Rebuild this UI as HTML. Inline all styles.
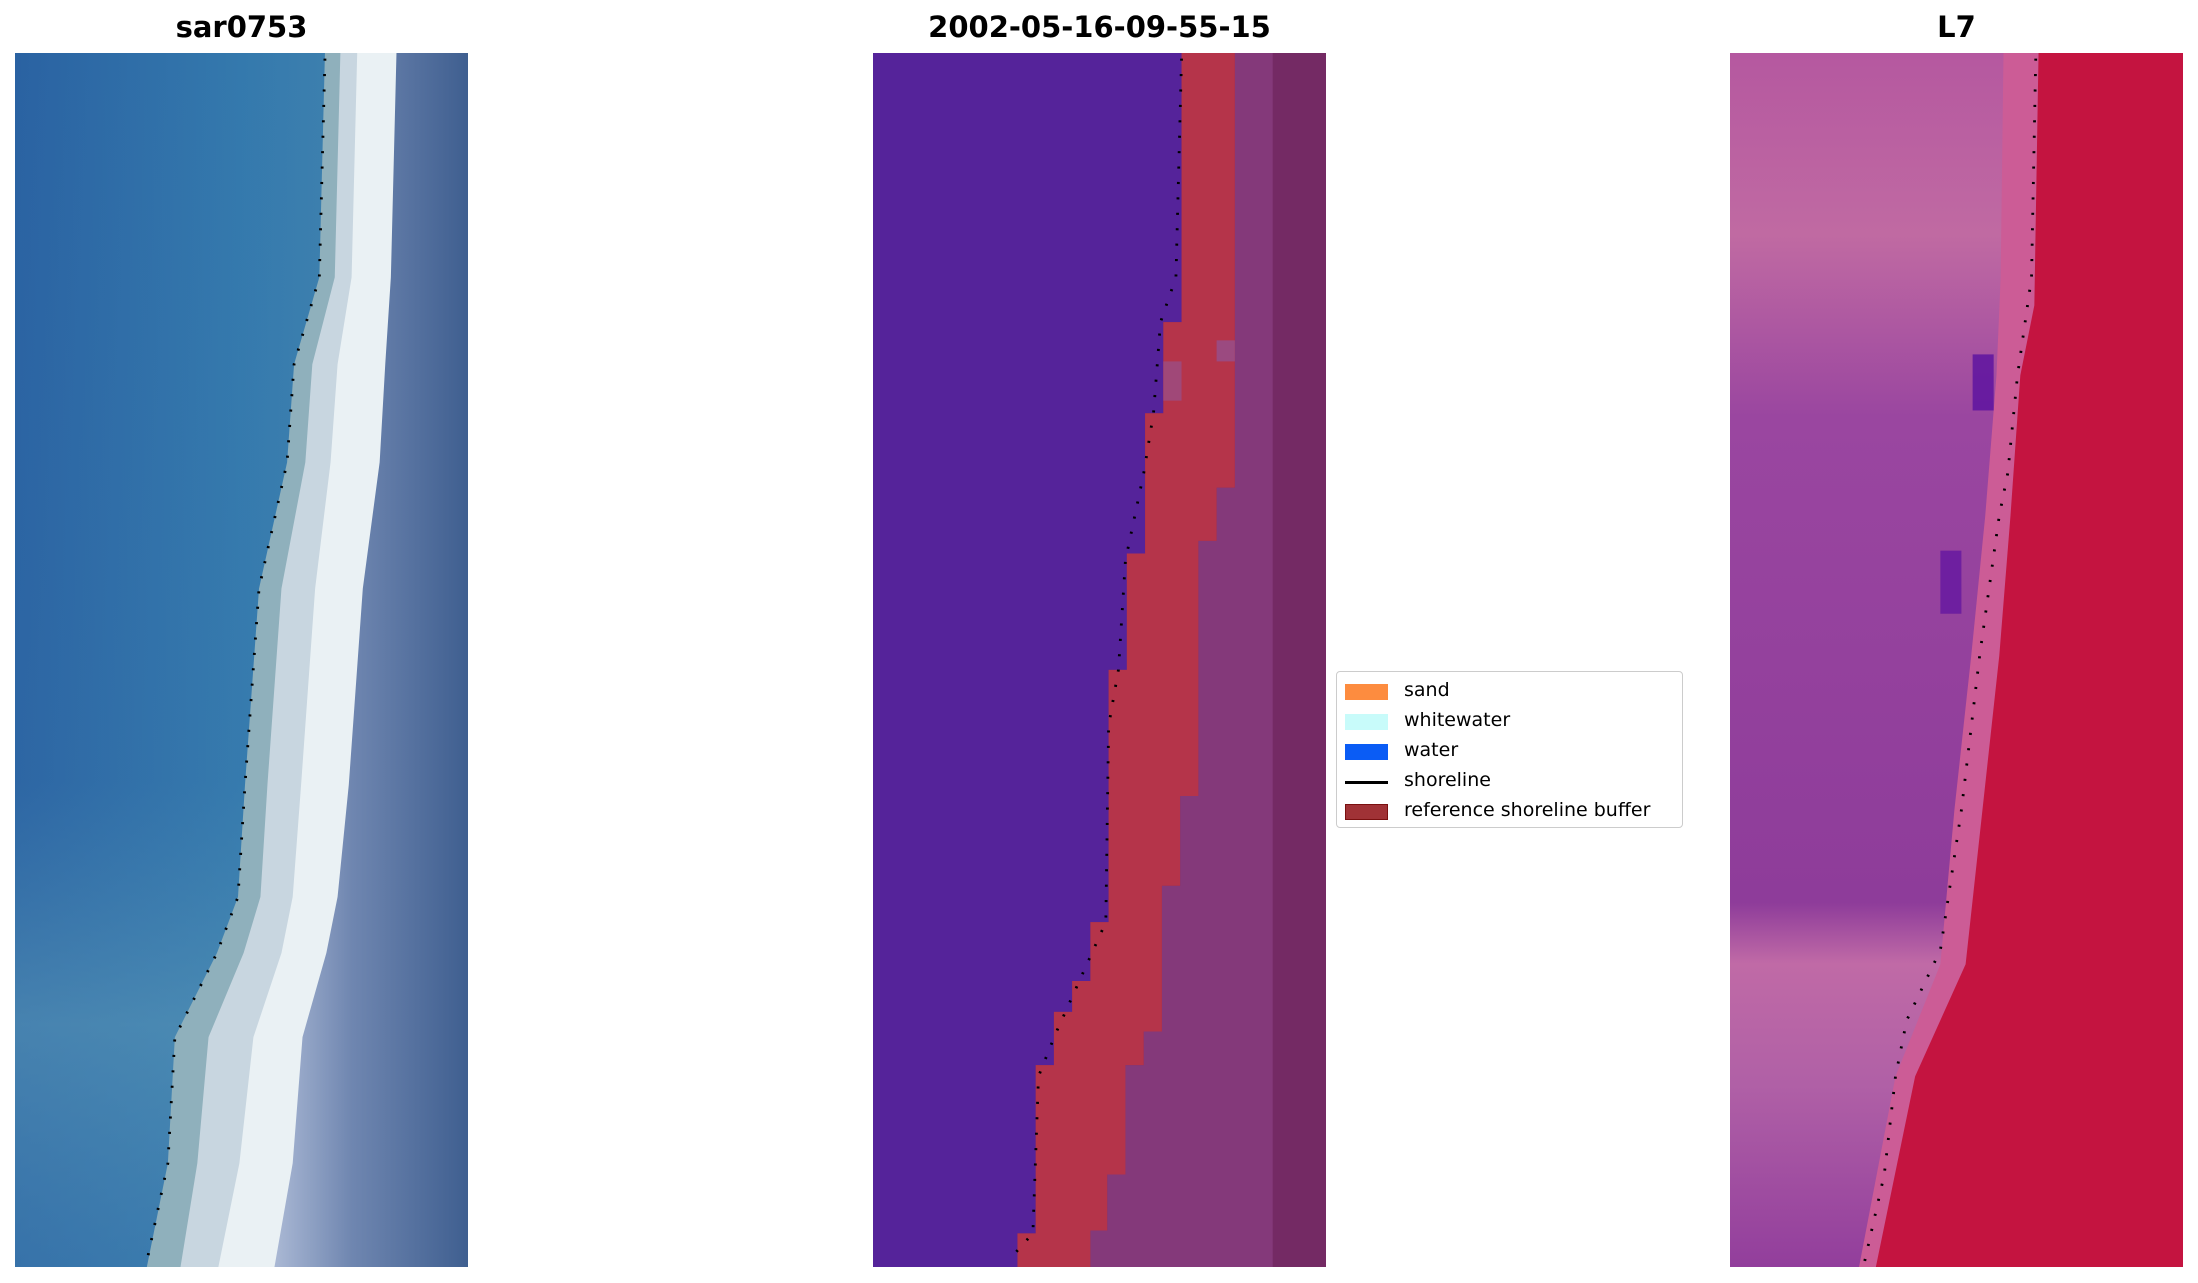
<!DOCTYPE html>
<html><head><meta charset="utf-8"><style>
html,body{margin:0;padding:0;background:#fff;width:2198px;height:1283px;overflow:hidden;position:relative;font-family:"Liberation Sans","DejaVu Sans",sans-serif}
.t{position:absolute;top:10px;font-weight:bold;font-size:29px;font-family:"DejaVu Sans","Liberation Sans",sans-serif;text-align:center;width:453px}
svg.p{position:absolute;top:53px;width:453px;height:1214px}
.lg{position:absolute;left:1336px;top:671px;width:345px;height:155px;border:1px solid #ccc;border-radius:4px;background:#fff;font-family:"DejaVu Sans","Liberation Sans",sans-serif;font-size:19px}
.row{position:absolute;left:8px;height:20px}
.sw{position:absolute;left:0;top:3px;width:43px;height:16px}
.lab{position:absolute;left:59px;top:-2px;white-space:nowrap}
</style></head><body>
<div class="t" style="left:15px">sar0753</div>
<div class="t" style="left:873px">2002-05-16-09-55-15</div>
<div class="t" style="left:1730px">L7</div>

<svg class="p" style="left:15px" viewBox="0 0 323 866" preserveAspectRatio="none">
<defs>
<linearGradient id="w" x1="0" x2="1"><stop offset="0" stop-color="#2a62a2"/><stop offset="0.5" stop-color="#3479ad"/><stop offset="1" stop-color="#4a8ab0"/></linearGradient>
<linearGradient id="wv" x1="0" y1="0" x2="0" y2="1"><stop offset="0" stop-color="#4a8ab4" stop-opacity="0"/><stop offset="0.6" stop-color="#4a8ab4" stop-opacity="0.1"/><stop offset="0.8" stop-color="#5a98b8" stop-opacity="0.6"/><stop offset="1" stop-color="#4a8ab4" stop-opacity="0.4"/></linearGradient>
<linearGradient id="r" x1="0" x2="1"><stop offset="0" stop-color="#aab8d4"/><stop offset="0.4" stop-color="#6f86b0"/><stop offset="1" stop-color="#3f5f90"/></linearGradient>
</defs>
<rect width="323" height="866" fill="url(#w)"/>
<rect x="0" y="0" width="220" height="866" fill="url(#wv)"/>
<polygon points="221,0 217,160 199,222 194,292 174,382 164,522 159,602 144,642 114,702 109,792 94,866 323,866 323,0" fill="#8fb0bc"/>
<polygon points="232,0 228,160 212,222 207,292 190,382 180,522 175,602 163,642 138,702 130,792 118,866 323,866 323,0" fill="#c8d6e0"/>
<polygon points="244,0 240,160 230,222 225,292 214,382 204,522 198,602 190,642 170,702 160,792 145,866 323,866 323,0" fill="#eaf1f4"/>
<polygon points="272,0 268,160 264,222 260,292 248,382 238,522 230,602 222,642 205,702 198,792 185,866 323,866 323,0" fill="url(#r)"/>
<polyline points="221,4 217,160 199,222 194,292 174,382 164,522 159,602 144,642 114,702 109,792 94,862" fill="none" stroke="#000" stroke-width="2" stroke-dasharray="1.5 9.5"/>
</svg>

<svg class="p" style="left:873px" viewBox="0 0 323 866" preserveAspectRatio="none">
<rect width="323" height="866" fill="#742a64"/>
<polygon points="258,0 285,0 285,866 155,866 155,840 167,840 167,800 180,800 180,722 193,722 193,698 206,698 206,594 219,594 219,530 232,530 232,348 245,348 245,310 258,310" fill="#84397a"/>
<polygon points="0,0 220,0 220,192 207,192 207,257 194,257 194,357 181,357 181,440 168,440 168,620 155,620 155,662 142,662 142,684 129,684 129,722 116,722 116,842 103,842 103,866 0,866" fill="#55239a"/>
<polygon points="220,0 258,0 258,310 245,310 245,348 232,348 232,530 219,530 219,594 206,594 206,698 193,698 193,722 180,722 180,800 167,800 167,840 155,840 155,866 103,866 103,842 116,842 116,722 129,722 129,684 142,684 142,662 155,662 155,620 168,620 168,440 181,440 181,357 194,357 194,257 207,257 207,192 220,192" fill="#b5344a"/>
<rect x="245" y="205" width="13" height="15" fill="#9b4a80"/>
<rect x="207" y="220" width="13" height="28" fill="#a04878"/>
<polyline points="220,4 216,160 205,192 200,257 193,300 180,362 175,440 168,480 166,620 148,660 130,700 118,730 114,842 96,862" fill="none" stroke="#000" stroke-width="2" stroke-dasharray="1.5 9.5"/>
</svg>

<svg class="p" style="left:1730px" viewBox="0 0 323 866" preserveAspectRatio="none">
<defs>
<linearGradient id="p3" x1="0" y1="0" x2="0" y2="1"><stop offset="0" stop-color="#b558a0"/><stop offset="0.15" stop-color="#c06aa2"/><stop offset="0.3" stop-color="#9a46a0"/><stop offset="0.7" stop-color="#8e3c9a"/><stop offset="0.75" stop-color="#c06aa6"/><stop offset="0.85" stop-color="#b060a6"/><stop offset="1" stop-color="#923e9c"/></linearGradient>
</defs>
<rect width="323" height="866" fill="url(#p3)"/>
<polygon points="195,0 193,160 190,230 182,330 172,430 160,540 150,650 118,730 92,866 323,866 323,0" fill="#cc5c96"/>
<polygon points="220,0 217,180 207,230 200,330 192,430 180,540 168,650 132,730 104,866 323,866 323,0" fill="#c41440"/>
<rect x="173" y="215" width="15" height="40" fill="#5a10a0" opacity="0.8"/>
<rect x="150" y="355" width="15" height="45" fill="#6416a0" opacity="0.8"/>
<polyline points="218,4 215,160 205,230 198,300 192,330 178,430 165,540 150,640 126,690 118,730 110,800 96,862" fill="none" stroke="#000" stroke-width="2" stroke-dasharray="1.5 9.5"/>
</svg>

<div class="lg">
<div class="row" style="top:9px"><div class="sw" style="background:#fd8c3f"></div><div class="lab">sand</div></div>
<div class="row" style="top:39px"><div class="sw" style="background:#c8fbfa"></div><div class="lab">whitewater</div></div>
<div class="row" style="top:69px"><div class="sw" style="background:#0a5cf5"></div><div class="lab">water</div></div>
<div class="row" style="top:99px"><div class="sw" style="background:#000;height:3px;top:10px"></div><div class="lab">shoreline</div></div>
<div class="row" style="top:129px"><div class="sw" style="background:#a03236;border:1px solid #7a1010;box-sizing:border-box"></div><div class="lab">reference shoreline buffer</div></div>
</div>
</body></html>
